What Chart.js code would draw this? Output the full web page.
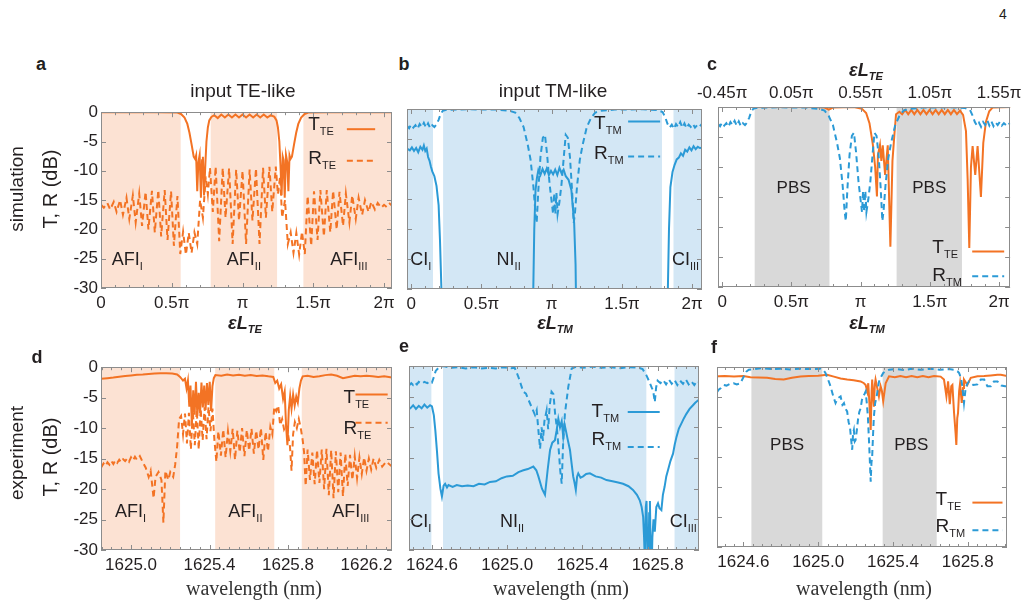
<!DOCTYPE html>
<html lang="en">
<head>
<meta charset="UTF-8">
<title>TE / TM transmission and reflection</title>
<script src="https://cdn.jsdelivr.net/npm/chart.js"></script>
<style>
    body {
        margin: 0;
        width: 1024px;
        height: 612px;
        position: relative;
        overflow: hidden;
        background: #fff;
        font-family: "Liberation Sans", Arial, sans-serif;
        color: #231f20;
    }
    canvas { position: absolute; }
    .t {
        position: absolute;
        white-space: nowrap;
        line-height: 1;
        transform: translate(-50%, -50%);
    }
    .rot { transform: translate(-50%, -50%) rotate(-90deg); }
    .s { font-size: 0.62em; position: relative; top: 0.35em; }
    .el { font-weight: bold; font-style: italic; font-size: 18px; }
    .wl { font-family: "Liberation Serif", serif; font-size: 20px; color: #333; }
    .pl { font-weight: bold; font-size: 18px; }
</style>
</head>
<body>
    <canvas id="pa"></canvas>
    <canvas id="pb"></canvas>
    <canvas id="pc"></canvas>
    <canvas id="pd"></canvas>
    <canvas id="pe"></canvas>
    <canvas id="pf"></canvas>

    <div class="t" style="left:1003px;top:14px;font-size:14px">4</div>

    <div class="t pl" style="left:41px;top:64px">a</div>
    <div class="t pl" style="left:404px;top:64px">b</div>
    <div class="t pl" style="left:712px;top:64px">c</div>
    <div class="t pl" style="left:37px;top:357px">d</div>
    <div class="t pl" style="left:404px;top:346px">e</div>
    <div class="t pl" style="left:714px;top:347px">f</div>

    <div class="t" style="left:243px;top:90px;font-size:19px">input TE-like</div>
    <div class="t" style="left:553px;top:90px;font-size:19px">input TM-like</div>

    <div class="t el" style="left:866px;top:70px">εL<span class="s">TE</span></div>
    <div class="t el" style="left:245px;top:323px">εL<span class="s">TE</span></div>
    <div class="t el" style="left:555px;top:323px">εL<span class="s">TM</span></div>
    <div class="t el" style="left:867px;top:323px">εL<span class="s">TM</span></div>

    <div class="t wl" style="left:254px;top:588px">wavelength (nm)</div>
    <div class="t wl" style="left:561px;top:588px">wavelength (nm)</div>
    <div class="t wl" style="left:864px;top:588px">wavelength (nm)</div>

    <div class="t rot" style="left:16px;top:189px;font-size:19px">simulation</div>
    <div class="t rot" style="left:50px;top:189px;font-size:20px">T, R (dB)</div>
    <div class="t rot" style="left:16px;top:453px;font-size:19px">experiment</div>
    <div class="t rot" style="left:50px;top:457px;font-size:20px">T, R (dB)</div>

<script>
    // ---- tick values ----
    const dbTicks = [0, -5, -10, -15, -20, -25, -30];
    const piTicks = [0, 0.5, 1, 1.5, 2];
    const teTopTicks = [-0.45, 0.05, 0.55, 1.05, 1.55];
    const nmTicksD = [1625.0, 1625.4, 1625.8, 1626.2];
    const nmTicksEF = [1624.6, 1625.0, 1625.4, 1625.8];

    // ---- shaded regions (x in pi units or nm) ----
    const bandsA = [[0, 0.563], [0.775, 1.244], [1.43, 2.06]];
    const bandsB = [[-0.03, 0.155], [0.227, 1.785], [1.867, 2.08]];
    const bandsC = [[0.235, 0.775], [1.26, 1.732]];
    const bandsD = [[1624.84, 1625.25], [1625.429, 1625.73], [1625.87, 1626.34]];
    const bandsE = [[1624.47, 1624.597], [1624.659, 1625.74], [1625.89, 1626.03]];
    const bandsF = [[1624.643, 1625.022], [1625.345, 1625.634]];

    // ---- simulation, input TE-like (x = eps*L_TE / pi, dB) ----
    const simT_TE = [
        [0, 0], [0.4, 0], [0.54, -0.05], [0.565, -0.3], [0.59, -0.9], [0.61, -2], [0.625, -3.5], [0.64, -5.5],
        [0.655, -7.6], [0.665, -8], [0.672, -7.4], [0.68, -13.5], [0.688, -8.5], [0.697, -7.3], [0.706, -14.6],
        [0.714, -8.2], [0.72, -7.6], [0.728, -14.2], [0.737, -9], [0.745, -5], [0.755, -2.6], [0.765, -1.4],
        [0.78, -0.8], [0.8, -0.5], [0.825, -1.0], [0.85, -0.4], [0.875, -0.9], [0.9, -0.4], [0.925, -0.9],
        [0.95, -0.4], [0.975, -0.9], [1.0, -0.4], [1.025, -0.9], [1.05, -0.4], [1.075, -0.9], [1.1, -0.4],
        [1.125, -0.9], [1.15, -0.4], [1.175, -0.9], [1.2, -0.5], [1.225, -0.8], [1.24, -1.4], [1.25, -2.6],
        [1.26, -5], [1.268, -9], [1.276, -14.2], [1.284, -7.6], [1.29, -8.2], [1.298, -14.6], [1.307, -7.3],
        [1.316, -8.5], [1.324, -13.5], [1.332, -7.4], [1.339, -8], [1.349, -7.6], [1.364, -5.5], [1.379, -3.5],
        [1.394, -2], [1.414, -0.9], [1.439, -0.3], [1.464, -0.05], [1.6, 0], [2.06, 0]
    ];
    const simR_TE = [
        [0, -15.8], [0.02, -16.3], [0.045, -15.5], [0.065, -16.6], [0.09, -15.3], [0.11, -17], [0.135, -15],
        [0.155, -17.5], [0.18, -14.6], [0.2, -18.2], [0.225, -14.2], [0.245, -18.8], [0.27, -13.9], [0.29, -19.4],
        [0.315, -13.6], [0.335, -20], [0.36, -13.4], [0.38, -20.5], [0.405, -13.3], [0.425, -21.2], [0.45, -13.3],
        [0.47, -21.8], [0.495, -13.5], [0.515, -22.8], [0.54, -14.3], [0.56, -24.2], [0.58, -20.4], [0.6, -24.3],
        [0.62, -20.6], [0.64, -24], [0.66, -20.5], [0.68, -22.5], [0.7, -15], [0.72, -18], [0.74, -11],
        [0.755, -14], [0.77, -9.5], [0.79, -17], [0.81, -9.3], [0.835, -22], [0.86, -9.5], [0.88, -18],
        [0.905, -9.6], [0.93, -22.5], [0.955, -9.8], [0.975, -18.5], [1.0, -10], [1.025, -22.5], [1.05, -9.8],
        [1.07, -18.5], [1.095, -9.6], [1.12, -22.5], [1.145, -9.5], [1.165, -18], [1.19, -9.3], [1.21, -17],
        [1.235, -9.3], [1.25, -14], [1.265, -11], [1.28, -18], [1.3, -15], [1.32, -22.5], [1.34, -20.5],
        [1.36, -24], [1.38, -20.6], [1.4, -24.3], [1.42, -20.4], [1.44, -24.2], [1.46, -14.3], [1.485, -22.8],
        [1.505, -13.5], [1.53, -21.8], [1.55, -13.3], [1.575, -21.2], [1.595, -13.3], [1.62, -20.5],
        [1.64, -13.4], [1.665, -20], [1.685, -13.6], [1.71, -19.4], [1.73, -13.9], [1.755, -18.8],
        [1.775, -14.2], [1.8, -18.2], [1.82, -14.6], [1.845, -17.5], [1.865, -15], [1.89, -17], [1.91, -15.3],
        [1.935, -16.6], [1.955, -15.5], [1.98, -16.3], [2.0, -15.8], [2.02, -16.2], [2.04, -15.6], [2.06, -16]
    ];

    // ---- simulation, input TM-like (x = eps*L_TM / pi, dB) ----
    const simT_TM = [
        [-0.03, -6.6], [-0.01, -6.9], [0.005, -6.4], [0.02, -7.0], [0.035, -6.5], [0.05, -7.2], [0.065, -6.3],
        [0.08, -6.8], [0.09, -6.1], [0.1, -7.0], [0.11, -6.6], [0.12, -8.0], [0.13, -8.6], [0.14, -9.6],
        [0.15, -10.4], [0.165, -11.2], [0.18, -12.8], [0.195, -16], [0.205, -22], [0.215, -30], [0.222, -40],
        [0.86, -40], [0.869, -30], [0.876, -20], [0.885, -13.5], [0.895, -11.5], [0.905, -10.2], [0.92, -11],
        [0.935, -10], [0.95, -10.8], [0.965, -9.9], [0.98, -11], [0.995, -10.3], [1.01, -10.9], [1.025, -10.1],
        [1.04, -11], [1.055, -9.8], [1.07, -10.7], [1.085, -10.1], [1.1, -11.2], [1.12, -11.8], [1.14, -13.5],
        [1.16, -19], [1.17, -26], [1.178, -40], [1.82, -40], [1.827, -30], [1.835, -20], [1.845, -13],
        [1.86, -10.5], [1.875, -9.3], [1.89, -8.4], [1.905, -8.1], [1.92, -7.4], [1.935, -7.8], [1.95, -6.8],
        [1.965, -7.1], [1.98, -6.4], [1.995, -6.9], [2.01, -6.2], [2.025, -6.7], [2.04, -6.3], [2.055, -6.5],
        [2.08, -6.4]
    ];
    const simR_TM = [
        [-0.03, -2.8], [-0.015, -3.2], [0.0, -2.6], [0.015, -3.1], [0.03, -2.7], [0.045, -3.3], [0.06, -2.5],
        [0.075, -3.0], [0.09, -2.3], [0.105, -3.1], [0.12, -2.4], [0.135, -3.2], [0.15, -2.7], [0.165, -3.0],
        [0.18, -2.6], [0.195, -1.8], [0.21, -0.8], [0.225, -0.3], [0.25, -0.15], [0.4, -0.05], [0.6, -0.1],
        [0.7, -0.3], [0.74, -0.6], [0.77, -1.5], [0.8, -3], [0.83, -6], [0.85, -8.5], [0.87, -13], [0.885, -17.5],
        [0.893, -19], [0.905, -13.5], [0.92, -8], [0.937, -4.8], [0.952, -4.3], [0.967, -7.5], [0.985, -12.5],
        [1.0, -15.5], [1.01, -17.5], [1.018, -14], [1.026, -17.5], [1.034, -14], [1.042, -17.5], [1.055, -15.5],
        [1.07, -12.5], [1.088, -7.5], [1.1, -4.3], [1.115, -4.8], [1.13, -8], [1.145, -13.5], [1.157, -19],
        [1.165, -17.5], [1.18, -13], [1.2, -8.5], [1.22, -6], [1.25, -3], [1.28, -1.5], [1.31, -0.6],
        [1.35, -0.3], [1.45, -0.1], [1.65, -0.05], [1.75, -0.15], [1.79, -0.5], [1.81, -1.5], [1.825, -2.5],
        [1.84, -3.1], [1.855, -2.6], [1.87, -3.3], [1.885, -2.5], [1.9, -3.0], [1.915, -2.2], [1.93, -3.1],
        [1.945, -2.4], [1.96, -3.2], [1.975, -2.6], [1.99, -3.0], [2.005, -2.5], [2.02, -3.1], [2.035, -2.7],
        [2.05, -3.0], [2.065, -2.6], [2.08, -2.9]
    ];
    // T_TE of panel c, plotted against the top axis (x = eps*L_TE / pi)
    const pbsT_TE = [
        [-0.48, 0], [0.2, 0], [0.29, -0.1], [0.32, -0.45], [0.35, -0.1], [0.5, 0], [0.56, -0.3], [0.59, -1.0],
        [0.614, -2.7], [0.638, -6.2], [0.655, -10], [0.668, -14.9], [0.675, -8], [0.69, -6.3], [0.7, -9],
        [0.71, -6.4], [0.727, -11.3], [0.746, -6.4], [0.765, -23.3], [0.78, -9], [0.794, -4.6], [0.806, -1.2],
        [0.83, -0.8], [0.85, -1.2], [0.872, -0.5], [0.894, -1.2], [0.916, -0.5], [0.938, -1.2], [0.96, -0.5],
        [0.982, -1.2], [1.004, -0.5], [1.026, -1.2], [1.048, -0.5], [1.07, -1.2], [1.092, -0.5], [1.114, -1.2],
        [1.136, -0.5], [1.158, -1.2], [1.18, -0.5], [1.202, -1.2], [1.224, -0.5], [1.246, -1.2], [1.268, -0.6],
        [1.29, -1.3], [1.311, -4], [1.323, -12], [1.335, -23.5], [1.347, -10], [1.359, -6.5], [1.378, -11.3],
        [1.395, -6.5], [1.419, -15], [1.436, -6], [1.455, -2.5], [1.479, -0.7], [1.503, -0.1], [1.64, 0]
    ];

    // ---- experiment, input TE-like (x = wavelength nm, dB) ----
    const expT_TE = [
        [1624.847, -1.9], [1624.88, -1.8], [1624.91, -1.7], [1624.94, -1.55], [1624.97, -1.45], [1625.0, -1.35],
        [1625.03, -1.25], [1625.06, -1.2], [1625.09, -1.1], [1625.12, -1.05], [1625.15, -1.0], [1625.18, -1.0],
        [1625.21, -1.05], [1625.235, -1.2], [1625.25, -1.6], [1625.265, -2.2], [1625.275, -1.9], [1625.283, -3.5],
        [1625.29, -2.2], [1625.297, -6.5], [1625.303, -3], [1625.31, -9.5], [1625.317, -3.8], [1625.324, -7.8],
        [1625.331, -2.4], [1625.338, -8], [1625.345, -4.2], [1625.352, -7.5], [1625.359, -2.5], [1625.366, -6.6],
        [1625.373, -3], [1625.38, -7], [1625.387, -2.6], [1625.394, -6.2], [1625.401, -2.4], [1625.408, -7.2],
        [1625.415, -3.1], [1625.422, -1.8], [1625.43, -1.3], [1625.46, -1.4], [1625.49, -1.2], [1625.52, -1.35],
        [1625.55, -1.25], [1625.58, -1.4], [1625.61, -1.3], [1625.64, -1.45], [1625.67, -1.35], [1625.7, -1.5],
        [1625.725, -1.6], [1625.735, -2.6], [1625.745, -2.2], [1625.755, -3.5], [1625.765, -2.8], [1625.775, -5.2],
        [1625.783, -4.0], [1625.79, -9.5], [1625.797, -12.8], [1625.804, -7], [1625.811, -4.7], [1625.818, -6.8],
        [1625.826, -4.5], [1625.834, -6.3], [1625.842, -4.8], [1625.85, -5.8], [1625.858, -3.5], [1625.866, -2.2],
        [1625.875, -1.5], [1625.9, -1.4], [1625.93, -1.6], [1625.96, -1.5], [1625.99, -1.3], [1626.02, -1.2],
        [1626.05, -1.4], [1626.08, -1.8], [1626.11, -1.6], [1626.14, -1.4], [1626.17, -1.5], [1626.2, -1.4],
        [1626.23, -1.5], [1626.26, -1.6], [1626.29, -1.5], [1626.33, -1.7]
    ];
    const expR_TE = [
        [1624.847, -16.5], [1624.86, -15.8], [1624.87, -16.2], [1624.88, -15.6], [1624.89, -16.0], [1624.9, -15.4],
        [1624.91, -15.9], [1624.92, -15.3], [1624.93, -15.7], [1624.94, -15.2], [1624.95, -15.6], [1624.96, -15.1],
        [1624.97, -15.4], [1624.98, -15.0], [1624.99, -15.5], [1625.0, -14.8], [1625.01, -15.3], [1625.02, -14.7],
        [1625.03, -15.2], [1625.045, -14.6], [1625.06, -15.6], [1625.075, -16.5], [1625.09, -18], [1625.1, -17],
        [1625.115, -21.5], [1625.125, -18], [1625.14, -17.2], [1625.155, -18.5], [1625.165, -25.5], [1625.175, -17],
        [1625.19, -18.5], [1625.2, -17.2], [1625.215, -18], [1625.225, -16], [1625.235, -13], [1625.245, -8.5],
        [1625.255, -8.0], [1625.265, -11], [1625.275, -7.6], [1625.285, -12.5], [1625.295, -7.5], [1625.305, -13.5],
        [1625.315, -7.2], [1625.325, -12.8], [1625.335, -7.0], [1625.345, -13.5], [1625.355, -6.8], [1625.365, -12],
        [1625.375, -6.6], [1625.385, -11.8], [1625.395, -6.5], [1625.405, -10.5], [1625.415, -6.8], [1625.425, -12],
        [1625.435, -15.5], [1625.445, -10.5], [1625.458, -14.5], [1625.47, -10.2], [1625.482, -14.8], [1625.494, -10.5],
        [1625.506, -13.8], [1625.518, -10.1], [1625.53, -15.2], [1625.542, -10.4], [1625.554, -14], [1625.566, -10.0],
        [1625.578, -14.6], [1625.59, -10.3], [1625.602, -13.7], [1625.614, -10.1], [1625.626, -14.2], [1625.638, -10.4],
        [1625.65, -13.5], [1625.662, -10.0], [1625.674, -15.2], [1625.686, -10.6], [1625.698, -13.8], [1625.71, -9.8],
        [1625.72, -11], [1625.73, -6.5], [1625.74, -7.2], [1625.75, -6.3], [1625.76, -9.5], [1625.77, -8.5],
        [1625.78, -10.2], [1625.79, -9.5], [1625.8, -11], [1625.81, -13], [1625.818, -17], [1625.826, -11],
        [1625.835, -9], [1625.845, -10], [1625.855, -8.5], [1625.865, -10], [1625.875, -12], [1625.882, -14],
        [1625.89, -19.5], [1625.9, -13.5], [1625.912, -18.5], [1625.924, -14], [1625.936, -19.2], [1625.948, -13.6],
        [1625.96, -19], [1625.972, -13.5], [1625.984, -20], [1625.996, -13.4], [1626.008, -21], [1626.02, -13.6],
        [1626.032, -21.5], [1626.044, -13.8], [1626.056, -20.5], [1626.068, -14], [1626.08, -21.2], [1626.092, -14.2],
        [1626.104, -19.5], [1626.116, -14.4], [1626.128, -18.5], [1626.14, -14.6], [1626.152, -18.2], [1626.164, -14.8],
        [1626.176, -17.5], [1626.188, -14.8], [1626.2, -17], [1626.212, -15], [1626.224, -16.8], [1626.236, -15.0],
        [1626.25, -16.5], [1626.265, -15.2], [1626.28, -16.3], [1626.3, -15.5], [1626.33, -16.3]
    ];

    // ---- experiment, input TM-like ----
    const expT_TM = [
        [1624.478, -6.8], [1624.485, -6.9], [1624.5, -6.4], [1624.515, -7.0], [1624.53, -6.5], [1624.545, -6.9],
        [1624.56, -6.3], [1624.575, -6.8], [1624.59, -6.4], [1624.6, -6.6], [1624.61, -8], [1624.618, -10.5],
        [1624.627, -14], [1624.635, -17.5], [1624.645, -20], [1624.653, -21.3], [1624.662, -19.5], [1624.67, -19.2],
        [1624.68, -19.8], [1624.688, -19.4], [1624.71, -19.7], [1624.732, -19.4], [1624.76, -19.6], [1624.79, -19.5],
        [1624.821, -19.6], [1624.85, -19.2], [1624.88, -19.3], [1624.909, -18.9], [1624.94, -18.8], [1624.97, -18.3],
        [1624.998, -18.0], [1625.03, -17.9], [1625.06, -17.3], [1625.086, -17.0], [1625.11, -16.8], [1625.139, -16.4],
        [1625.155, -17], [1625.166, -18], [1625.185, -20], [1625.201, -21], [1625.215, -17], [1625.228, -13.7],
        [1625.24, -12.5], [1625.254, -12.1], [1625.263, -10.5], [1625.272, -8.6], [1625.281, -10], [1625.29, -9],
        [1625.298, -11.5], [1625.305, -9.5], [1625.312, -10.5], [1625.322, -12], [1625.334, -13.7], [1625.343, -16],
        [1625.351, -18], [1625.358, -19], [1625.365, -20.2], [1625.372, -18], [1625.378, -17.5], [1625.39, -18.2],
        [1625.404, -18], [1625.42, -17.6], [1625.44, -17.5], [1625.47, -18], [1625.5, -18.2], [1625.528, -18.6],
        [1625.56, -18.8], [1625.59, -19], [1625.616, -19.2], [1625.645, -19.6], [1625.669, -20.2], [1625.69, -21],
        [1625.705, -21.9], [1625.715, -23], [1625.723, -24.6], [1625.728, -28], [1625.732, -32], [1625.737, -23],
        [1625.741, -22], [1625.746, -31], [1625.75, -36], [1625.755, -24], [1625.759, -22], [1625.763, -30],
        [1625.767, -35], [1625.772, -28], [1625.778, -25], [1625.785, -27], [1625.793, -23], [1625.802, -22.4],
        [1625.81, -23.2], [1625.82, -23.5], [1625.828, -21], [1625.837, -19.7], [1625.846, -18], [1625.855, -17],
        [1625.868, -15.5], [1625.882, -14.3], [1625.891, -12.8], [1625.9, -11.6], [1625.913, -10.2], [1625.926, -9.4],
        [1625.94, -8.5], [1625.953, -7.8], [1625.97, -7], [1625.988, -6.4], [1626.0, -6.0], [1626.015, -5.6],
        [1626.03, -5.5]
    ];
    const expR_TM = [
        [1624.478, -3.2], [1624.49, -2.8], [1624.5, -3.1], [1624.51, -2.7], [1624.52, -3.0], [1624.53, -2.6],
        [1624.545, -2.9], [1624.56, -2.6], [1624.575, -2.8], [1624.59, -2.5], [1624.6, -2.7], [1624.61, -1.8],
        [1624.62, -0.8], [1624.635, -0.3], [1624.66, 0], [1624.7, -0.3], [1624.74, -0.2], [1624.78, -0.4],
        [1624.82, -0.2], [1624.86, -0.4], [1624.9, -0.3], [1624.94, -0.4], [1624.98, -0.2], [1625.02, -0.35],
        [1625.04, -0.3], [1625.06, -1.8], [1625.075, -3.2], [1625.086, -4.2], [1625.1, -4.5], [1625.113, -5.5],
        [1625.13, -6.7], [1625.148, -8], [1625.157, -7.2], [1625.166, -10.5], [1625.175, -13.5], [1625.183, -10],
        [1625.19, -12.2], [1625.198, -9], [1625.21, -7.2], [1625.218, -10.3], [1625.226, -6.5], [1625.236, -4.2],
        [1625.246, -4.6], [1625.255, -7.8], [1625.265, -10.3], [1625.275, -14], [1625.282, -17], [1625.29, -19.2],
        [1625.297, -13], [1625.307, -7.8], [1625.325, -3.4], [1625.343, -0.4], [1625.37, -0.1], [1625.4, -0.3],
        [1625.45, -0.1], [1625.5, -0.3], [1625.55, -0.2], [1625.6, -0.35], [1625.65, -0.2], [1625.7, -0.3],
        [1625.72, -0.5], [1625.74, -1.5], [1625.755, -2.5], [1625.768, -3.5], [1625.776, -4], [1625.785, -5.9],
        [1625.792, -3.5], [1625.8, -2.4], [1625.815, -2.8], [1625.83, -2.3], [1625.845, -3.0], [1625.86, -2.2],
        [1625.875, -2.9], [1625.89, -2.3], [1625.905, -3.1], [1625.92, -2.4], [1625.935, -2.9], [1625.95, -2.2],
        [1625.965, -3.0], [1625.98, -2.5], [1625.995, -3.1], [1626.01, -2.4], [1626.03, -2.8]
    ];

    // ---- experiment, PBS operation ----
    const pbsExpT_TE = [
        [1624.459, -1.6], [1624.468, -1.56], [1624.5, -1.5], [1624.55, -1.6], [1624.6, -1.5], [1624.638, -1.7],
        [1624.68, -1.75], [1624.727, -1.8], [1624.77, -2.0], [1624.816, -2.1], [1624.86, -1.8], [1624.905, -1.6],
        [1624.95, -1.5], [1625.0, -1.45], [1625.048, -1.28], [1625.084, -1.6], [1625.12, -1.9], [1625.155, -2.1],
        [1625.19, -2.2], [1625.227, -2.4], [1625.245, -2.7], [1625.254, -3.0], [1625.263, -4.1], [1625.268, -2.7],
        [1625.274, -6], [1625.281, -10.5], [1625.286, -4], [1625.289, -2.1], [1625.294, -5], [1625.298, -6.6],
        [1625.303, -3], [1625.307, -2.1], [1625.316, -3.5], [1625.325, -4.9], [1625.334, -3.2], [1625.341, -4],
        [1625.348, -5.7], [1625.361, -2.7], [1625.379, -1.56], [1625.41, -1.7], [1625.44, -1.5], [1625.47, -1.7],
        [1625.5, -1.5], [1625.53, -1.7], [1625.56, -1.5], [1625.59, -1.7], [1625.62, -1.5], [1625.655, -1.6],
        [1625.673, -2.1], [1625.686, -4.9], [1625.695, -2.4], [1625.704, -6.2], [1625.712, -3.2], [1625.718, -3.0],
        [1625.727, -7.7], [1625.735, -11], [1625.739, -13], [1625.744, -8.5], [1625.748, -7.7], [1625.754, -4],
        [1625.759, -2.7], [1625.768, -6], [1625.775, -3.5], [1625.78, -2.1], [1625.798, -3.0], [1625.816, -1.8],
        [1625.852, -1.56], [1625.888, -1.5], [1625.923, -1.4], [1625.959, -1.3], [1625.977, -1.28], [1626.02, -1.56]
    ];
    const pbsExpR_TM = [
        [1624.459, -4.2], [1624.468, -3.8], [1624.48, -3.5], [1624.495, -3.0], [1624.51, -3.1], [1624.53, -2.8],
        [1624.548, -2.7], [1624.565, -2.9], [1624.584, -2.7], [1624.602, -1.6], [1624.615, -0.8], [1624.629, -0.45],
        [1624.66, -0.35], [1624.7, -0.2], [1624.75, -0.35], [1624.8, -0.3], [1624.85, -0.4], [1624.9, -0.3],
        [1624.95, -0.35], [1625.013, -0.3], [1625.03, -0.6], [1625.039, -1.0], [1625.052, -2], [1625.066, -3.2],
        [1625.08, -4.8], [1625.093, -6], [1625.105, -5.2], [1625.12, -4.9], [1625.13, -6.3], [1625.138, -6],
        [1625.147, -7], [1625.155, -7.4], [1625.163, -9.2], [1625.17, -9.9], [1625.176, -12], [1625.182, -13.8],
        [1625.187, -11], [1625.191, -10.5], [1625.196, -12.4], [1625.2, -12.2], [1625.207, -10.5], [1625.213, -8.8],
        [1625.22, -7.5], [1625.227, -6.9], [1625.234, -5.5], [1625.241, -4.9], [1625.248, -4.5], [1625.254, -4.1],
        [1625.26, -6], [1625.266, -8.3], [1625.273, -13], [1625.281, -19.1], [1625.285, -16], [1625.289, -14.9],
        [1625.294, -11], [1625.298, -8.3], [1625.305, -6], [1625.313, -4.9], [1625.325, -2.5], [1625.334, -1.8],
        [1625.348, -1], [1625.361, -0.7], [1625.38, -0.45], [1625.42, -0.35], [1625.46, -0.5], [1625.5, -0.3],
        [1625.55, -0.45], [1625.6, -0.3], [1625.65, -0.45], [1625.7, -0.35], [1625.727, -0.45], [1625.745, -0.7],
        [1625.754, -1.0], [1625.765, -2], [1625.771, -3.2], [1625.78, -6], [1625.789, -3.5], [1625.798, -2.8],
        [1625.807, -2.4], [1625.83, -3.0], [1625.852, -2.9], [1625.87, -2.1], [1625.888, -2.1], [1625.905, -3.2],
        [1625.923, -3.2], [1625.94, -2.4], [1625.959, -2.4], [1625.98, -3.1], [1626.0, -3.2], [1626.02, -3.2]
    ];

    // ---- styling ----
    const ORANGE = '#f37324';
    const BLUE = '#2b9ad6';
    const PEACH = '#fce2d3';
    const SKY = '#d3e7f5';
    const GREY = '#d9d9d9';
    const INK = '#231f20';
    const FRAME = '#8c8c8c';
    const SANS = '"Liberation Sans", Arial, sans-serif';
    Chart.defaults.font.family = SANS;

    const piFmt = v => v === 0 ? '0' : (v === 1 ? 'π' : v + 'π');
    const teFmt = v => v + 'π';
    const nmFmt = v => v.toFixed(1);

    // per-panel decoration (bands, labels, legends, inward ticks)
    const decoSpecs = {};

    function subText(ctx, x, y, main, sub, size, align) {
        ctx.font = size + 'px ' + SANS;
        const w1 = ctx.measureText(main).width;
        ctx.font = Math.round(size * 0.6) + 'px ' + SANS;
        const w2 = ctx.measureText(sub).width;
        let x0 = x;
        if (align === 'center') x0 = x - (w1 + w2) / 2;
        ctx.textBaseline = 'middle';
        ctx.textAlign = 'left';
        ctx.font = size + 'px ' + SANS;
        ctx.fillText(main, x0, y);
        ctx.font = Math.round(size * 0.6) + 'px ' + SANS;
        ctx.fillText(sub, x0 + w1, y + size * 0.38);
    }

    const deco = {
        id: 'deco',
        beforeDatasetsDraw(chart) {
            const spec = decoSpecs[chart.canvas.id];
            const a = chart.chartArea;
            const xs = chart.scales.x;
            const ctx = chart.ctx;
            ctx.save();
            ctx.fillStyle = spec.bandColor;
            spec.bands.forEach(([lo, hi]) => {
                const x1 = Math.max(a.left, xs.getPixelForValue(lo));
                const x2 = Math.min(a.right, xs.getPixelForValue(hi));
                if (x2 > x1) ctx.fillRect(x1, a.top, x2 - x1, a.bottom - a.top);
            });
            ctx.restore();
        },
        afterDatasetsDraw(chart) {
            const spec = decoSpecs[chart.canvas.id];
            const a = chart.chartArea;
            const xs = chart.scales.x;
            const ys = chart.scales.y;
            const ctx = chart.ctx;
            ctx.save();

            // region labels
            ctx.fillStyle = INK;
            spec.labels.forEach(l => {
                subText(ctx, xs.getPixelForValue(l.x), ys.getPixelForValue(l.y), l.main, l.sub, l.size || 18, l.align);
            });

            // legend
            spec.legend.forEach(g => {
                ctx.fillStyle = INK;
                subText(ctx, xs.getPixelForValue(g.x), ys.getPixelForValue(g.y), g.main, g.sub, 19);
                ctx.strokeStyle = g.color;
                ctx.lineWidth = 2;
                ctx.setLineDash(g.dash || []);
                ctx.beginPath();
                const ly = ys.getPixelForValue(g.ly);
                ctx.moveTo(xs.getPixelForValue(g.x1), ly);
                ctx.lineTo(xs.getPixelForValue(g.x2), ly);
                ctx.stroke();
                ctx.setLineDash([]);
            });

            // frame
            ctx.strokeStyle = FRAME;
            ctx.lineWidth = 1;
            ctx.strokeRect(Math.round(a.left) + 0.5, Math.round(a.top) + 0.5,
                Math.round(a.right - a.left) - 1, Math.round(a.bottom - a.top) - 1);

            // inward ticks
            ctx.beginPath();
            const xt = spec.xTicks;
            const step = spec.minor;
            for (let v = Math.ceil(xs.min / step) * step; v <= xs.max + 1e-9; v += step) {
                const isMajor = xt.some(t => Math.abs(t - v) < step / 10);
                const px = Math.round(xs.getPixelForValue(v)) + 0.5;
                const len = isMajor ? 5 : 3;
                ctx.moveTo(px, a.bottom);
                ctx.lineTo(px, a.bottom - len);
                ctx.moveTo(px, a.top);
                ctx.lineTo(px, a.top + len);
            }
            dbTicks.forEach(v => {
                const py = Math.round(ys.getPixelForValue(v)) + 0.5;
                ctx.moveTo(a.left, py);
                ctx.lineTo(a.left + 5, py);
                ctx.moveTo(a.right, py);
                ctx.lineTo(a.right - 5, py);
            });
            ctx.stroke();
            ctx.restore();
        }
    };

    function line(data, color, dashed, axis) {
        return {
            data: data.map(([x, y]) => ({ x, y })),
            borderColor: color,
            borderWidth: 2,
            borderDash: dashed ? [6, 4] : [],
            pointRadius: 0,
            tension: 0,
            fill: false,
            xAxisID: axis || 'x'
        };
    }

    function panel(id, area, spec) {
        const padL = spec.yLabels ? 70 : (spec.top ? 40 : 10);
        const padR = 14;
        const padT = spec.top ? 40 : 10;
        const padB = 40;
        const cv = document.getElementById(id);
        const w = area[2] - area[0] + padL + padR;
        const h = area[3] - area[1] + padT + padB;
        cv.width = w;
        cv.height = h;
        cv.style.left = (area[0] - padL) + 'px';
        cv.style.top = (area[1] - padT) + 'px';
        cv.style.width = w + 'px';
        cv.style.height = h + 'px';
        decoSpecs[id] = spec;

        const tickFont = { family: SANS, size: 17 };
        const scales = {
            x: {
                type: 'linear', position: 'bottom', min: spec.xRange[0], max: spec.xRange[1],
                afterFit: s => { s.height = padB; },
                afterBuildTicks: s => { s.ticks = spec.xTicks.map(v => ({ value: v })); },
                ticks: { callback: spec.xFmt, font: tickFont, color: INK, padding: 5, maxRotation: 0, autoSkip: false },
                grid: { display: false, drawTicks: false },
                border: { display: false }
            },
            y: {
                type: 'linear', position: 'left', min: -30, max: 0,
                afterFit: s => { s.width = padL; },
                afterBuildTicks: s => { s.ticks = dbTicks.map(v => ({ value: v })); },
                ticks: { display: !!spec.yLabels, font: tickFont, color: INK, padding: 3, callback: v => String(v) },
                grid: { display: false, drawTicks: false },
                border: { display: false }
            }
        };
        if (spec.top) {
            scales.x2 = {
                type: 'linear', position: 'top',
                min: spec.xRange[0] - spec.topShift, max: spec.xRange[1] - spec.topShift,
                afterFit: s => { s.height = padT; },
                afterBuildTicks: s => { s.ticks = spec.top.map(v => ({ value: v })); },
                ticks: { callback: teFmt, font: tickFont, color: INK, padding: 3, maxRotation: 0, autoSkip: false },
                grid: { display: false, drawTicks: false },
                border: { display: false }
            };
        }
        return new Chart(cv, {
            type: 'line',
            data: { datasets: spec.datasets },
            options: {
                responsive: false,
                animation: false,
                devicePixelRatio: 1,
                events: [],
                layout: { padding: { left: 0, right: padR, top: spec.top ? 0 : padT, bottom: 0 }, autoPadding: false },
                plugins: { legend: { display: false }, tooltip: { enabled: false } },
                scales
            },
            plugins: [deco]
        });
    }

    // a: simulation, TE input
    panel('pa', [101, 109, 392, 288], {
        yLabels: true, xRange: [0, 2.056], xTicks: piTicks, xFmt: piFmt, minor: 0.1,
        bands: bandsA, bandColor: PEACH,
        datasets: [line(simR_TE, ORANGE, true), line(simT_TE, ORANGE, false)],
        labels: [
            { x: 0.076, y: -25.2, main: 'AFI', sub: 'I' },
            { x: 0.889, y: -25.2, main: 'AFI', sub: 'II' },
            { x: 1.62, y: -25.2, main: 'AFI', sub: 'III' }
        ],
        legend: [
            { x: 1.464, y: -2.1, main: 'T', sub: 'TE', x1: 1.737, x2: 1.937, ly: -2.9, color: ORANGE },
            { x: 1.464, y: -8.0, main: 'R', sub: 'TE', x1: 1.737, x2: 1.937, ly: -8.3, color: ORANGE, dash: [6, 4] }
        ]
    });

    // b: simulation, TM input
    panel('pb', [407, 109, 702, 289], {
        xRange: [-0.03, 2.07], xTicks: piTicks, xFmt: piFmt, minor: 0.1,
        bands: bandsB, bandColor: SKY,
        datasets: [line(simR_TM, BLUE, true), line(simT_TM, BLUE, false)],
        labels: [
            { x: -0.006, y: -25.2, main: 'CI', sub: 'I' },
            { x: 0.608, y: -25.2, main: 'NI', sub: 'II' },
            { x: 1.856, y: -25.2, main: 'CI', sub: 'III' }
        ],
        legend: [
            { x: 1.302, y: -2.4, main: 'T', sub: 'TM', x1: 1.544, x2: 1.772, ly: -2.1, color: BLUE },
            { x: 1.302, y: -7.4, main: 'R', sub: 'TM', x1: 1.544, x2: 1.772, ly: -7.9, color: BLUE, dash: [6, 4] }
        ]
    });

    // c: simulation, PBS (bottom eps*L_TM, top eps*L_TE)
    panel('pc', [718, 107, 1011, 287], {
        xRange: [-0.03, 2.08], xTicks: piTicks, xFmt: piFmt, minor: 0.1,
        top: teTopTicks, topShift: 0.45,
        bands: bandsC, bandColor: GREY,
        datasets: [line(simR_TM, BLUE, true), line(pbsT_TE, ORANGE, false, 'x2')],
        labels: [
            { x: 0.516, y: -13.5, main: 'PBS', sub: '', size: 17, align: 'center' },
            { x: 1.496, y: -13.5, main: 'PBS', sub: '', size: 17, align: 'center' }
        ],
        legend: [
            { x: 1.518, y: -23.5, main: 'T', sub: 'TE', x1: 1.806, x2: 2.037, ly: -24.1, color: ORANGE },
            { x: 1.518, y: -28.2, main: 'R', sub: 'TM', x1: 1.806, x2: 2.037, ly: -28.2, color: BLUE, dash: [6, 4] }
        ]
    });

    // d: experiment, TE input
    panel('pd', [101, 364, 392, 550], {
        yLabels: true, xRange: [1624.847, 1626.33], xTicks: nmTicksD, xFmt: nmFmt, minor: 0.05,
        bands: bandsD, bandColor: PEACH,
        datasets: [line(expR_TE, ORANGE, true), line(expT_TE, ORANGE, false)],
        labels: [
            { x: 1624.918, y: -23.8, main: 'AFI', sub: 'I' },
            { x: 1625.496, y: -23.8, main: 'AFI', sub: 'II' },
            { x: 1626.025, y: -23.8, main: 'AFI', sub: 'III' }
        ],
        legend: [
            { x: 1626.083, y: -5.0, main: 'T', sub: 'TE', x1: 1626.144, x2: 1626.308, ly: -4.5, color: ORANGE },
            { x: 1626.083, y: -10.1, main: 'R', sub: 'TE', x1: 1626.144, x2: 1626.308, ly: -9.1, color: ORANGE, dash: [6, 4] }
        ]
    });

    // e: experiment, TM input
    panel('pe', [409, 366, 699, 550], {
        xRange: [1624.478, 1626.02], xTicks: nmTicksEF, xFmt: nmFmt, minor: 0.05,
        bands: bandsE, bandColor: SKY,
        datasets: [line(expR_TM, BLUE, true), line(expT_TM, BLUE, false)],
        labels: [
            { x: 1624.485, y: -25.4, main: 'CI', sub: 'I' },
            { x: 1624.962, y: -25.4, main: 'NI', sub: 'II' },
            { x: 1625.864, y: -25.4, main: 'CI', sub: 'III' }
        ],
        legend: [
            { x: 1625.449, y: -7.5, main: 'T', sub: 'TM', x1: 1625.641, x2: 1625.811, ly: -7.5, color: BLUE },
            { x: 1625.449, y: -12.1, main: 'R', sub: 'TM', x1: 1625.641, x2: 1625.811, ly: -13.2, color: BLUE, dash: [6, 4] }
        ]
    });

    // f: experiment, PBS
    panel('pf', [717, 367, 1007, 547], {
        xRange: [1624.459, 1626.01], xTicks: nmTicksEF, xFmt: nmFmt, minor: 0.05,
        bands: bandsF, bandColor: GREY,
        datasets: [line(pbsExpR_TM, BLUE, true), line(pbsExpT_TE, ORANGE, false)],
        labels: [
            { x: 1624.834, y: -13, main: 'PBS', sub: '', size: 17, align: 'center' },
            { x: 1625.498, y: -13, main: 'PBS', sub: '', size: 17, align: 'center' }
        ],
        legend: [
            { x: 1625.628, y: -22.2, main: 'T', sub: 'TE', x1: 1625.825, x2: 1625.986, ly: -22.6, color: ORANGE },
            { x: 1625.628, y: -26.7, main: 'R', sub: 'TM', x1: 1625.825, x2: 1625.986, ly: -27.2, color: BLUE, dash: [6, 4] }
        ]
    });
</script>
</body>
</html>
